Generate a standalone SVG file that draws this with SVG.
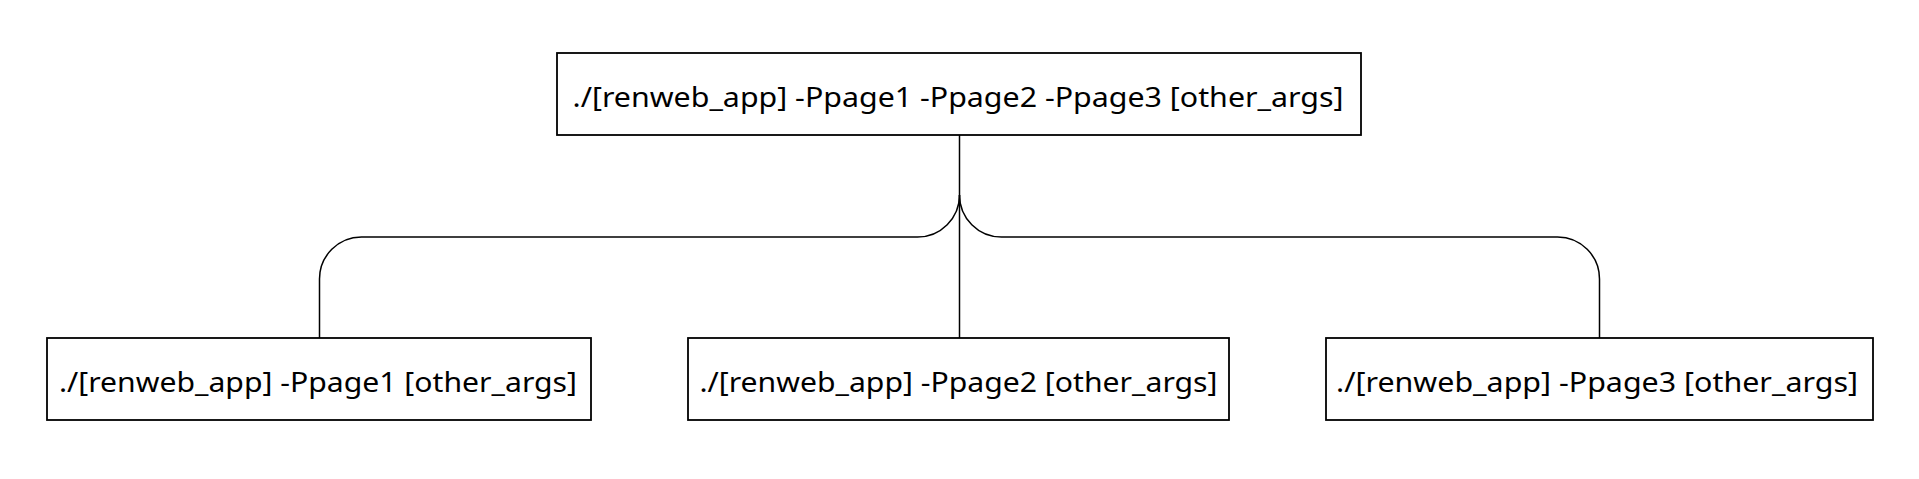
<svg xmlns="http://www.w3.org/2000/svg" width="1919" height="479" viewBox="0 0 1919 479">
<style>
.box{fill:#fff;stroke:#000;stroke-width:1.8}
.lbl{font-family:"Noto Sans","Liberation Sans",sans-serif;font-size:27px;fill:#000;text-anchor:middle}
.conn{fill:none;stroke:#000;stroke-width:1.5}
</style>
<rect width="1919" height="479" fill="#fff"/>
<g id="connectors">
<path class="conn" d="M959.5 135 V338"/>
<path class="conn" d="M959.5 195 A42 42 0 0 1 917.5 237 H361.5 A42 42 0 0 0 319.5 279 V338"/>
<path class="conn" d="M959.5 195 A42 42 0 0 0 1001.5 237 H1557.5 A42 42 0 0 1 1599.5 279 V338"/>
</g>
<g id="node-root">
<rect class="box" x="557" y="53" width="804" height="82"/>
<text class="lbl" x="958" y="106.5" textLength="771" lengthAdjust="spacingAndGlyphs">./[renweb_app] -Ppage1 -Ppage2 -Ppage3 [other_args]</text>
</g>
<g id="node-page1">
<rect class="box" x="47" y="338" width="544" height="82"/>
<text class="lbl" x="318" y="391.5" textLength="518" lengthAdjust="spacingAndGlyphs">./[renweb_app] -Ppage1 [other_args]</text>
</g>
<g id="node-page2">
<rect class="box" x="688" y="338" width="541" height="82"/>
<text class="lbl" x="958.5" y="391.5" textLength="518" lengthAdjust="spacingAndGlyphs">./[renweb_app] -Ppage2 [other_args]</text>
</g>
<g id="node-page3">
<rect class="box" x="1326" y="338" width="547" height="82"/>
<text class="lbl" x="1597" y="391.5" textLength="522" lengthAdjust="spacingAndGlyphs">./[renweb_app] -Ppage3 [other_args]</text>
</g>
</svg>
